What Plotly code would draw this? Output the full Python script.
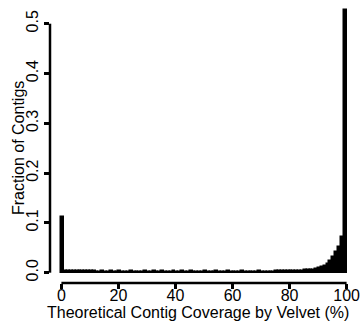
import plotly.graph_objects as go

# Histogram bins (percent coverage), left edges 0..99, width 1
bin_left = list(range(0, 100))
fraction = [
    0.112,
    0.003, 0.003, 0.0035, 0.0035, 0.0035, 0.0035, 0.0035, 0.003, 0.0035, 0.003,
    0.0025, 0.002, 0.002, 0.0025, 0.002, 0.002, 0.0025, 0.002, 0.002, 0.0025,
    0.002, 0.002, 0.002, 0.0025, 0.002, 0.002, 0.002, 0.002, 0.0025, 0.002,
    0.002, 0.0025, 0.002, 0.002, 0.0025, 0.002, 0.002, 0.002, 0.0025, 0.002,
    0.002, 0.0025, 0.002, 0.002, 0.0025, 0.002, 0.002, 0.002, 0.002, 0.0025,
    0.002, 0.002, 0.002, 0.0025, 0.002, 0.002, 0.002, 0.0025, 0.002, 0.002,
    0.002, 0.002, 0.0025, 0.002, 0.002, 0.002, 0.002, 0.002, 0.0025, 0.002,
    0.002, 0.002, 0.002, 0.002, 0.0025, 0.003, 0.0025, 0.0025, 0.003, 0.003,
    0.003, 0.0035, 0.0035, 0.004, 0.0045, 0.005, 0.0055, 0.006, 0.007, 0.009,
    0.011, 0.014, 0.0175, 0.024, 0.031, 0.041, 0.052, 0.072, 0.527,
]
x_ticks = [0, 20, 40, 60, 80, 100]
y_ticks = [0.0, 0.1, 0.2, 0.3, 0.4, 0.5]
y_ticktext = ["0.0", "0.1", "0.2", "0.3", "0.4", "0.5"]

FONT = "Liberation Sans, Arial, sans-serif"

fig = go.Figure(
    go.Bar(
        x=[b + 0.5 for b in bin_left],
        y=fraction,
        width=1,
        marker=dict(color="black", line=dict(color="black", width=1.5)),
        hoverinfo="skip",
    )
)

fig.update_layout(
    width=362,
    height=321,
    margin=dict(l=50, r=4, t=0, b=38, autoexpand=False),
    plot_bgcolor="white",
    paper_bgcolor="white",
    showlegend=False,
    bargap=0,
    font=dict(family=FONT, size=16, color="black"),
    xaxis=dict(
        range=[-4, 104],
        tickvals=x_ticks,
        ticks="outside",
        ticklen=5,
        tickwidth=2.5,
        tickcolor="black",
        showline=False,
        showgrid=False,
        zeroline=False,
        automargin=False,
        ticklabelstandoff=-7,
        tickfont=dict(family=FONT, size=16),
    ),
    yaxis=dict(
        range=[-0.0207, 0.5476],
        tickvals=y_ticks,
        ticktext=y_ticktext,
        tickangle=-90,
        ticks="outside",
        ticklen=5,
        tickwidth=2.5,
        tickcolor="black",
        showline=False,
        showgrid=False,
        zeroline=False,
        automargin=False,
        tickfont=dict(family=FONT, size=16),
    ),
    shapes=[
        dict(type="line", xref="x", yref="paper", x0=x_ticks[0], x1=x_ticks[-1], y0=0, y1=0,
             line=dict(color="black", width=2.5)),
        dict(type="line", xref="paper", yref="y", x0=0, x1=0, y0=y_ticks[0], y1=y_ticks[-1],
             line=dict(color="black", width=2.5)),
    ],
    annotations=[
        dict(text="Theoretical Contig Coverage by Velvet (%)", xref="paper", yref="paper",
             x=0.48, y=-0.106, xanchor="center", yanchor="middle", showarrow=False,
             font=dict(family=FONT, size=16)),
        dict(text="Fraction of Contigs", xref="paper", yref="paper",
             x=-0.104, y=0.477, xanchor="center", yanchor="middle", textangle=-90,
             showarrow=False, font=dict(family=FONT, size=16)),
    ],
)

fig.write_html(
    "out.html",
    config={"displayModeBar": False},
    post_script="document.body.style.margin='0';document.body.style.padding='0';",
)
